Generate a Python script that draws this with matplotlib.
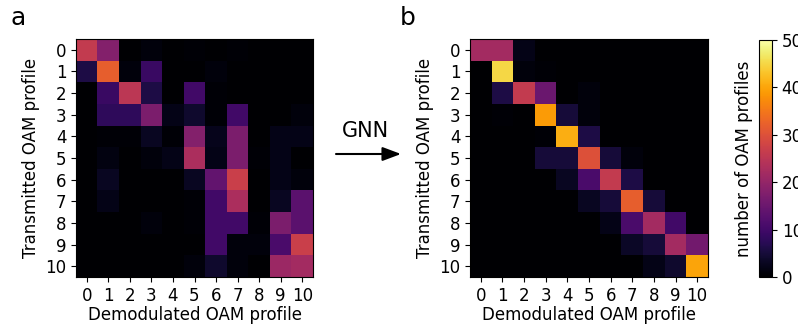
import numpy as np
import matplotlib
matplotlib.use('Agg')
import matplotlib.pyplot as plt

labels = [str(i) for i in range(11)]

# confusion matrix before GNN (rows: transmitted, cols: demodulated)
before = np.array([
    [26, 18, 0, 1, 0, 0.5, 0, 0.5, 0, 0, 0],
    [6, 32, 1, 9, 0, 0, 1, 0, 0, 0, 0],
    [0, 9, 25, 6, 0, 10, 0.5, 0, 0, 0, 0],
    [0, 8, 8, 17, 2, 4, 0.5, 10, 0, 0, 1],
    [0, 0.5, 0.5, 3, 0.5, 18, 2.5, 17, 0, 2, 2],
    [0, 1.5, 0, 1, 2, 23, 2, 17, 0.5, 2, 0],
    [0, 3, 0, 0, 0, 3, 14, 27, 0, 2, 1],
    [0, 2, 0, 0, 0, 0.5, 10, 23, 0, 3, 13],
    [0, 0, 0, 1, 0, 0.5, 10, 10, 0.5, 17, 13],
    [0, 0, 0, 0, 0, 0, 10, 1, 1, 11, 27],
    [0, 0, 0, 0, 0, 1, 4, 1, 0, 21, 22],
])

# confusion matrix after GNN
after = np.array([
    [22, 22, 2, 0, 0, 0, 0, 0, 0, 0, 0],
    [0, 45, 1, 0.5, 0, 0, 0, 0, 0, 0, 0],
    [0, 6, 26, 15, 0, 1, 0, 0, 0, 0, 0],
    [0, 0.5, 0, 39, 5, 1, 0, 0, 0, 0, 0],
    [0, 0, 0, 0.5, 41, 6, 0, 0, 0, 0, 0],
    [0, 0, 0, 5, 5, 30, 5, 1, 0, 0, 0],
    [0, 0, 0, 0, 3, 11, 26, 6, 0, 0, 0],
    [0, 0, 0, 0, 0, 3, 5, 32, 5, 0, 0],
    [0, 0, 0, 0, 0, 0, 2, 11, 22, 10, 0],
    [0, 0, 0, 0, 0, 0, 0, 3.5, 5, 22, 16],
    [0, 0, 0, 0, 0, 0, 0, 0, 2, 4, 40],
])

W, H = 798, 324
fig = plt.figure(figsize=(W / 100, H / 100), dpi=100)

def px(x0, y0, x1, y1):
    return [x0 / W, 1 - y1 / H, (x1 - x0) / W, (y1 - y0) / H]

ax1 = fig.add_axes(px(76, 39, 313, 277))
ax2 = fig.add_axes(px(470, 39, 708, 277))
cax = fig.add_axes(px(759, 40, 772, 277))

for ax, m in [(ax1, before), (ax2, after)]:
    im = ax.imshow(m, cmap='inferno', vmin=0, vmax=50, aspect='auto')
    ax.set_xticks(range(11))
    ax.set_xticklabels(labels)
    ax.set_yticks(range(11))
    ax.set_yticklabels(labels)
    ax.tick_params(labelsize=12)
    ax.set_xlabel('Demodulated OAM profile', fontsize=12, labelpad=1)
    ax.set_ylabel('Transmitted OAM profile', fontsize=12)

cb = fig.colorbar(im, cax=cax, ticks=[0, 10, 20, 30, 40, 50])
cb.ax.tick_params(labelsize=12)
cb.set_label('number of OAM profiles', fontsize=12)
cb.ax.yaxis.set_label_position('left')

fig.text(10 / W, 1 - 18 / H, 'a', fontsize=18, va='center', ha='left')
fig.text(400 / W, 1 - 18 / H, 'b', fontsize=18, va='center', ha='left')
fig.text(365 / W, 1 - 131 / H, 'GNN', fontsize=15, va='center', ha='center')
fig.patches.append(matplotlib.patches.FancyArrowPatch(
    (336 / W, 1 - 154 / H), (401 / W, 1 - 154 / H), transform=fig.transFigure,
    arrowstyle='-|>,head_length=0.8,head_width=0.3', mutation_scale=14,
    lw=1.5, color='black', shrinkA=0, shrinkB=0))

fig.savefig('out.png', dpi=100)
